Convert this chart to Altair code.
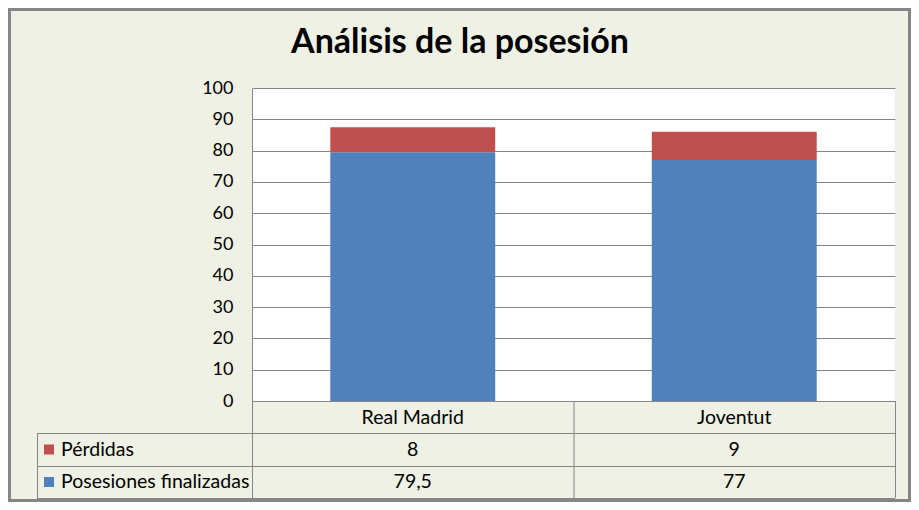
import altair as alt
import pandas as pd

# ---- data ----
teams = ["Real Madrid", "Joventut"]
series = ["Pérdidas", "Posesiones finalizadas"]
perdidas = [8, 9]
posesiones = [79.5, 77]
y_ticks = [0, 10, 20, 30, 40, 50, 60, 70, 80, 90, 100]
colors = ["#C0504D", "#4F81BD"]

TITLE = "Análisis de la posesión"
FONT = "Lato"
GRID = "#868686"
BG = "#EEF1E3"


def fmt(v):
    return f"{v:g}".replace(".", ",")


rows = []
for i, t in enumerate(teams):
    rows.append(dict(team=t, series=series[1], value=posesiones[i], label=fmt(posesiones[i]), order=0))
    rows.append(dict(team=t, series=series[0], value=perdidas[i], label=fmt(perdidas[i]), order=1))
df = pd.DataFrame(rows)
legend_df = pd.DataFrame({"series": series})
title_df = pd.DataFrame({"title": [TITLE]})

# ---- layout (pixels) ----
W, H = 643, 313
ROW_LINES = [H + 32, H + 65, H + 97]
ROW_CENTERS = [H + 48.5, H + 81]
LEFT_COL = -215
TABLE_FS = 19.5

xscale = alt.Scale(domain=teams, paddingInner=0.487, paddingOuter=0.2435)
cscale = alt.Scale(domain=series, range=colors)
row_scale = alt.Scale(domain=series, range=ROW_CENTERS, padding=0)

bars = alt.Chart(df).mark_bar().encode(
    x=alt.X("team:N", scale=xscale, sort=teams,
            axis=alt.Axis(title=None, ticks=False, tickSize=0, labelAngle=0,
                          labelPadding=16, labelBaseline="middle", labelFontSize=TABLE_FS,
                          domainColor=GRID, domainWidth=1)),
    y=alt.Y("value:Q", stack="zero", scale=alt.Scale(domain=[0, 100], nice=False),
            axis=alt.Axis(title=None, values=y_ticks, grid=True, gridColor=GRID,
                          gridWidth=1, ticks=False, tickSize=0, labelPadding=19,
                          labelFontSize=18, domainColor=GRID, domainWidth=1)),
    color=alt.Color("series:N", scale=cscale, legend=None),
    order=alt.Order("order:Q"),
)

values_text = alt.Chart(df).mark_text(font=FONT, fontSize=TABLE_FS, baseline="middle", color="black").encode(
    x=alt.X("team:N", scale=xscale, sort=teams),
    y=alt.Y("series:N", scale=row_scale, axis=None),
    text="label:N",
)

names_text = alt.Chart(legend_df).mark_text(font=FONT, fontSize=TABLE_FS, baseline="middle",
                                             align="left", color="black").encode(
    x=alt.value(LEFT_COL + 24),
    y=alt.Y("series:N", scale=row_scale, axis=None),
    text="series:N",
)

squares = alt.Chart(legend_df).mark_square(size=100, opacity=1).encode(
    x=alt.value(LEFT_COL + 12),
    y=alt.Y("series:N", scale=row_scale, axis=None),
    color=alt.Color("series:N", scale=cscale, legend=None),
)

title_mark = alt.Chart(title_df).mark_text(font=FONT, fontSize=34, fontWeight="bold",
                                            baseline="alphabetic", align="center",
                                            color="black").encode(
    x=alt.value(208), y=alt.value(-35), text="title:N")

one = alt.Data(values=[{"k": 1}])


def rule(x1, x2, y1, y2):
    return alt.Chart(one).mark_rule(color=GRID, strokeWidth=1).encode(
        x=alt.value(x1), x2=alt.value(x2), y=alt.value(y1), y2=alt.value(y2))


rules = []
for yl in ROW_LINES:
    rules.append(rule(LEFT_COL, W, yl + 0.5, yl + 0.5))
rules.append(rule(LEFT_COL + 0.5, LEFT_COL + 0.5, ROW_LINES[0], ROW_LINES[-1]))
for xl in [0, W / 2, W]:
    rules.append(rule(xl + 0.5, xl + 0.5, H, ROW_LINES[-1]))

border = alt.Chart(one).mark_rect(fillOpacity=0, stroke=GRID, strokeWidth=3).encode(
    x=alt.value(-244 + 1.5), x2=alt.value(W + 16 - 1.5),
    y=alt.value(-80 + 1.5), y2=alt.value(H + 101 - 1.5),
)

chart = alt.layer(bars, values_text, names_text, squares, title_mark, *rules, border).resolve_scale(
    y="independent"
).properties(
    width=W,
    height=H,
    autosize=alt.AutoSizeParams(type="none"),
    padding={"left": 244, "top": 80, "right": 16, "bottom": 101},
    background=BG,
).configure_view(fill="white", strokeWidth=0).configure_axis(
    labelFont=FONT, labelColor="black"
)

chart.save("out.html", embed_options={"renderer": "svg", "actions": False})
